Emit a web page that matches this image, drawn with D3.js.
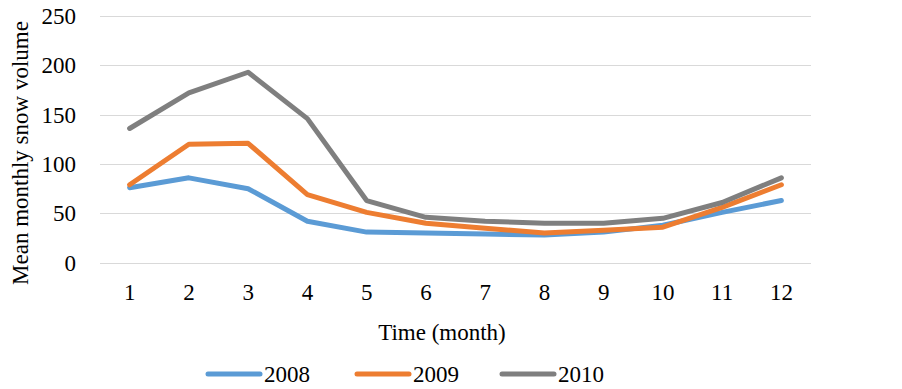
<!DOCTYPE html>
<html>
<head>
<meta charset="utf-8">
<script src="https://cdn.jsdelivr.net/npm/d3@7"></script>
<style>
  body { margin: 0; background: #fff; }
  text { font-family: "Liberation Serif", "Times New Roman", serif; fill: #000; }
</style>
</head>
<body>
<svg id="chart" width="902" height="389"></svg>
<script>
var months = [1, 2, 3, 4, 5, 6, 7, 8, 9, 10, 11, 12];
var s2008 = [76, 86, 75, 42, 31, 30, 29, 28, 31, 38, 51, 63];
var s2009 = [79, 120, 121, 69, 51, 40, 35, 30, 33, 36, 56, 79];
var s2010 = [136, 172, 193, 146, 63, 46, 42, 40, 40, 45, 61, 86];
var yTicks = [0, 50, 100, 150, 200, 250];

var series = [
  { name: "2008", values: s2008, color: "#5B9BD5" },
  { name: "2009", values: s2009, color: "#ED7D31" },
  { name: "2010", values: s2010, color: "#7F7F7F" }
];

var svg = d3.select("#chart");

var xScale = d3.scalePoint()
  .domain(months)
  .range([100, 811])
  .padding(0.5);

var yScale = d3.scaleLinear()
  .domain([0, 250])
  .range([262.7, 16]);

// gridlines
svg.append("g")
  .selectAll("line")
  .data(yTicks)
  .enter()
  .append("line")
  .attr("x1", 100)
  .attr("x2", 811)
  .attr("y1", (d) => Math.round(yScale(d)) + 0.5)
  .attr("y2", (d) => Math.round(yScale(d)) + 0.5)
  .attr("stroke", "#D9D9D9")
  .attr("stroke-width", 1.2);

// y labels
svg.append("g")
  .selectAll("text")
  .data(yTicks)
  .enter()
  .append("text")
  .attr("x", 76)
  .attr("y", (d) => yScale(d))
  .attr("dy", "0.35em")
  .attr("text-anchor", "end")
  .style("font-size", "23px")
  .text((d) => d);

// x labels
svg.append("g")
  .selectAll("text")
  .data(months)
  .enter()
  .append("text")
  .attr("x", (d) => xScale(d))
  .attr("y", 292)
  .attr("dy", "0.35em")
  .attr("text-anchor", "middle")
  .style("font-size", "23px")
  .text((d) => d);

// axis titles
svg.append("text")
  .attr("transform", "translate(20,153) rotate(-90)")
  .attr("dy", "0.35em")
  .attr("text-anchor", "middle")
  .style("font-size", "23px")
  .text("Mean monthly snow volume");

svg.append("text")
  .attr("x", 442)
  .attr("y", 332)
  .attr("dy", "0.35em")
  .attr("text-anchor", "middle")
  .style("font-size", "23px")
  .text("Time (month)");

// lines
var line = d3.line()
  .x((d, i) => xScale(months[i]))
  .y((d) => yScale(d));

svg.append("g")
  .selectAll("path")
  .data(series)
  .enter()
  .append("path")
  .attr("d", (d) => line(d.values))
  .attr("fill", "none")
  .attr("stroke", (d) => d.color)
  .attr("stroke-width", 5)
  .attr("stroke-linejoin", "round")
  .attr("stroke-linecap", "round");

// legend
var legend = svg.append("g")
  .selectAll("g")
  .data(series)
  .enter()
  .append("g")
  .attr("transform", (d, i) => "translate(" + [208, 357, 502][i] + ",374)");

legend.append("line")
  .attr("x1", 0)
  .attr("x2", 52)
  .attr("stroke", (d) => d.color)
  .attr("stroke-width", 5)
  .attr("stroke-linecap", "round");

legend.append("text")
  .attr("x", 56)
  .attr("dy", "0.35em")
  .style("font-size", "23px")
  .text((d) => d.name);
</script>
</body>
</html>
